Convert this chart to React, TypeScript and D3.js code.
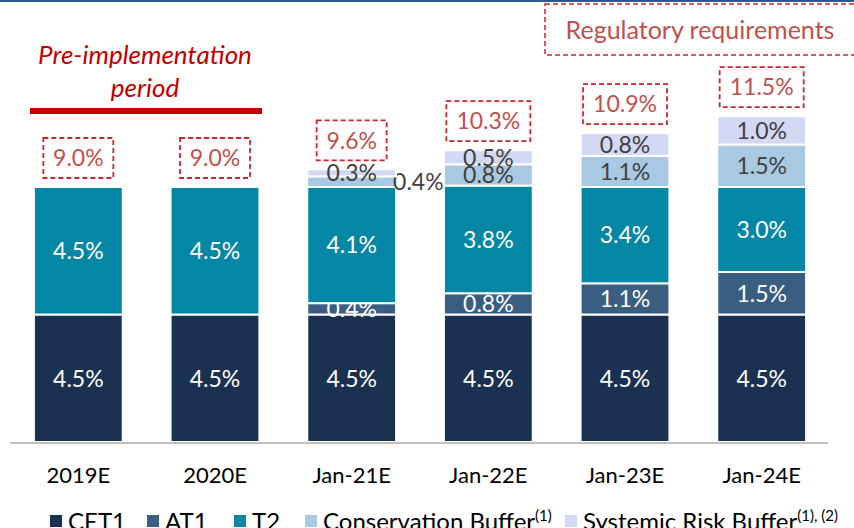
import React from "react";
import * as d3 from "d3";

const categories = ["2019E", "2020E", "Jan-21E", "Jan-22E", "Jan-23E", "Jan-24E"];
const cet1 = [4.5, 4.5, 4.5, 4.5, 4.5, 4.5];
const at1 = [0, 0, 0.4, 0.75, 1.1, 1.5];
const t2 = [4.5, 4.5, 4.1, 3.8, 3.4, 3.0];
const conservation = [0, 0, 0.375, 0.75, 1.1, 1.5];
const systemic = [0, 0, 0.25, 0.5, 0.8, 1.0];
const totals = [9.0, 9.0, 9.6, 10.3, 10.9, 11.5];

const seriesNames = ["CET1", "AT1", "T2", "Conservation Buffer", "Systemic Risk Buffer"];
const seriesSup = ["", "", "", "(1)", "(1), (2)"];
const seriesColors = ["#1b3152", "#3a5d82", "#0487a4", "#a9c8e1", "#d3d8f5"];
const labelColors = ["#ffffff", "#ffffff", "#ffffff", "#404040", "#404040"];

const W = 854;
const H = 528;
const FONT = "Lato, 'Liberation Sans', Arial, sans-serif";

export default function App() {
  const x = d3.scaleBand<string>().domain(categories).range([10, 830]).paddingInner(0.35).paddingOuter(0.175);
  const y = d3.scaleLinear().domain([0, 15.6]).range([442, 0]);
  const rows = categories.map((c, i) => ({
    cat: c,
    v: [cet1[i], at1[i], t2[i], conservation[i], systemic[i]],
  }));
  const stack = d3.stack<any>().keys([0, 1, 2, 3, 4] as any).value((d: any, k: any) => d.v[k]);
  const stacked = stack(rows as any);
  const bw = x.bandwidth();
  const fmt = (v: number) => v.toFixed(1) + "%";
  const legendX = [50, 147, 234, 305, 565];

  return (
    <svg width={W} height={H} style={{ position: "absolute", left: 0, top: 0, background: "#fff" }} fontFamily={FONT}>
      <rect x={0} y={0} width={W} height={2} fill="#2c5b87" />
      {/* Regulatory requirements box */}
      <rect x={545} y={4} width={330} height={51} fill="none" stroke="#c9252b" strokeWidth={1.5} strokeDasharray="5,3" />
      <text x={700} y={39} textAnchor="middle" fontSize={25} fill="#c0504d">Regulatory requirements</text>
      {/* Pre-implementation */}
      <text x={145} y={64} textAnchor="middle" fontSize={26} fontStyle="italic" fill="#c00000">Pre-implementation</text>
      <text x={145} y={97} textAnchor="middle" fontSize={26} fontStyle="italic" fill="#c00000">period</text>
      <rect x={30} y={108} width={232} height={6} fill="#c00000" />

      {/* bars */}
      {stacked.map((s: any, si: number) => (
        <g key={si}>
          {s.map((d: any, i: number) => {
            const v = d[1] - d[0];
            if (v <= 0) return null;
            const x0 = x(categories[i])!;
            const yTop = y(d[1]);
            const yBot = y(d[0]);
            const cy = (yTop + yBot) / 2;
            const outside = si === 3 && categories[i] === "Jan-21E";
            return (
              <g key={i}>
                <rect x={x0} y={yTop} width={bw} height={yBot - yTop} fill={seriesColors[si]} stroke="#fff" strokeWidth={2} />
                <text
                  x={outside ? x0 + bw - 3 : x0 + bw / 2}
                  y={cy}
                  dy="0.36em"
                  textAnchor={outside ? "start" : "middle"}
                  fontSize={23}
                  fill={labelColors[si]}
                >
                  {fmt(v)}
                </text>
              </g>
            );
          })}
        </g>
      ))}

      {/* totals boxes */}
      {totals.map((t, i) => {
        const cx = x(categories[i])! + bw / 2;
        const bottom = y(d3.sum(rows[i].v)) - 9;
        const label = fmt(t);
        const bwBox = label.length >= 5 ? 84 : 70;
        return (
          <g key={i}>
            <rect x={cx - bwBox / 2} y={bottom - 40} width={bwBox} height={40} fill="none" stroke="#c9252b" strokeWidth={1.8} strokeDasharray="5,3" />
            <text x={cx} y={bottom - 20} dy="0.36em" textAnchor="middle" fontSize={23} fill="#c0504d">{label}</text>
          </g>
        );
      })}

      {/* axis */}
      <line x1={10} x2={828} y1={y(0) + 1} y2={y(0) + 1} stroke="#bfbfbf" strokeWidth={2} />
      {categories.map((c) => (
        <text key={c} x={x(c)! + bw / 2} y={483} textAnchor="middle" fontSize={22} fill="#000">{c}</text>
      ))}

      {/* legend */}
      {seriesNames.map((n, i) => (
        <g key={n}>
          <rect x={legendX[i]} y={515} width={12} height={12} fill={seriesColors[i]} />
          <text x={legendX[i] + 18} y={530} fontSize={24} fill="#000">
            {n}
            {seriesSup[i] && (
              <tspan fontSize={15} dy={-9}>{seriesSup[i]}</tspan>
            )}
          </text>
        </g>
      ))}
    </svg>
  );
}
